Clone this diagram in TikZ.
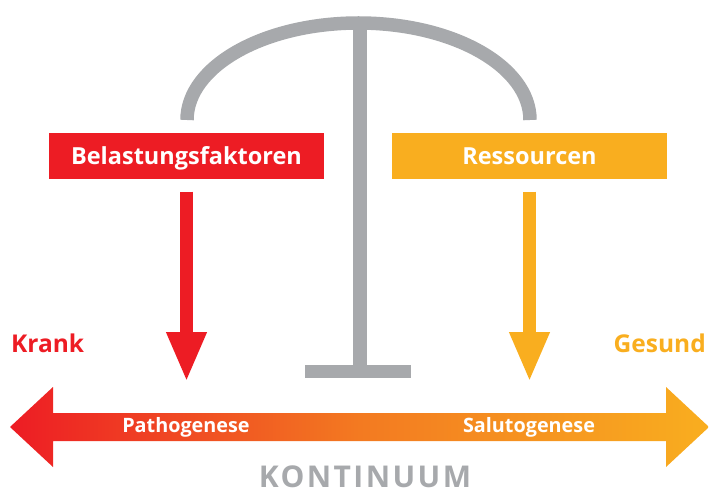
\documentclass[tikz,border=0pt]{standalone}
\usepackage{fontspec}
\setmainfont{Open Sans}
\usetikzlibrary{arrows.meta,calc}
\definecolor{cred}{HTML}{ED1C24}
\definecolor{corange}{HTML}{F9AE1F}
\definecolor{cmid}{HTML}{F37A21}
\definecolor{cgray}{HTML}{A7A9AC}
\tikzset{
  box/.style={fill=#1, text=white, minimum width=275pt, minimum height=46pt,
    inner sep=0pt, font=\fontsize{23.5}{24}\selectfont\bfseries, text height=17pt, text depth=0pt},
  downarrow/.style={draw=#1, line width=13.5pt, -{Triangle[width=37pt,length=50pt]}},
  sidelabel/.style={text=#1, font=\fontsize{24.5}{25}\selectfont\bfseries, inner sep=0pt},
  arrowlabel/.style={text=white, font=\fontsize{19.8}{20}\selectfont\bfseries, inner sep=0pt, anchor=base},
  scalepart/.style={draw=cgray, line width=13.5pt}
}
\begin{document}
\begin{tikzpicture}[x=1pt,y=-1pt]
\useasboundingbox (0,0) rectangle (709,494);
% scale
\draw[scalepart] (187,120) arc[start angle=180, end angle=360, x radius=171.5, y radius=97];
\coordinate (poletop) at (360,23);
\coordinate (polebase) at (360,371.5);
\draw[scalepart] (poletop) -- (polebase);
\coordinate (baseL) at (305,371.5);
\coordinate (baseR) at (411,371.5);
\draw[scalepart] (baseL) -- (baseR);
% boxes
\node[box=cred] (bel) at (186.5,156) {Belastungsfaktoren};
\node[box=corange] (res) at (529.5,156) {Ressourcen};
% down arrows
\coordinate (redtip) at (186.5,382);
\coordinate (orgtip) at (529.5,382);
\draw[downarrow=cred] ([yshift=-12.5pt]bel.south) -- (redtip);
\draw[downarrow=corange] ([yshift=-12.5pt]res.south) -- (orgtip);
% double arrow
\coordinate (L) at (10,427);
\coordinate (R) at (709,427);
\shade[left color=cred, right color=corange, middle color=cmid]
  (L) -- ($(L)+(43,-40)$) -- ($(L)+(43,-14)$) -- ($(R)+(-43,-14)$) -- ($(R)+(-43,-40)$)
  -- (R) -- ($(R)+(-43,40)$) -- ($(R)+(-43,14)$) -- ($(L)+(43,14)$) -- ($(L)+(43,40)$) -- cycle;
\node[arrowlabel] (patho) at (186,432) {Pathogenese};
\node[arrowlabel] (saluto) at (529,432) {Salutogenese};
% labels
\node[sidelabel=cred, anchor=base west] (krank) at (11,352) {Krank};
\node[sidelabel=corange, anchor=base east] (gesund) at (706,352) {Gesund};
\node[text=cgray, font=\fontsize{30}{30}\selectfont\bfseries\addfontfeature{LetterSpace=8}, inner sep=0pt, anchor=base] (kont) at (365,487) {KONTINUUM};
\end{tikzpicture}
\end{document}
